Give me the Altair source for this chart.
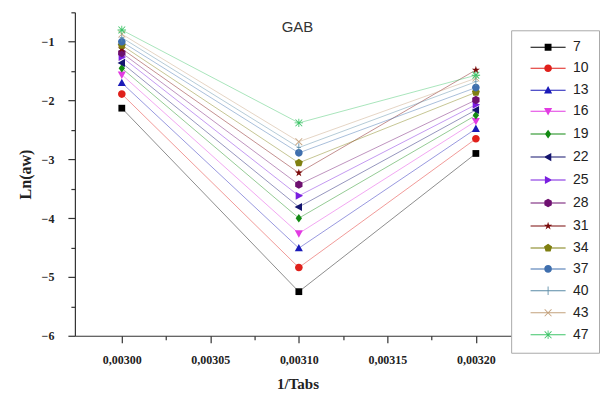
import altair as alt
import pandas as pd

# ---- data ----
series = ["7", "10", "13", "16", "19", "22", "25", "28", "31", "34", "37", "40", "43", "47"]
x_vals = [0.00300, 0.00310, 0.00320]
y_300 = [-2.13, -1.89, -1.70, -1.56, -1.45, -1.36, -1.26, -1.19, -1.12, -1.06, -1.00, -0.93, -0.87, -0.80]
y_310 = [-5.25, -4.84, -4.51, -4.26, -4.00, -3.81, -3.62, -3.43, -3.23, -3.06, -2.89, -2.80, -2.70, -2.38]
y_320 = [-2.90, -2.65, -2.48, -2.35, -2.25, -2.16, -2.07, -1.99, -1.48, -1.86, -1.78, -1.68, -1.62, -1.57]

x_major = [0.00300, 0.00305, 0.00310, 0.00315, 0.00320]
x_minor = [0.003025, 0.003075, 0.003125, 0.003175, 0.003225]
y_major = [-6, -5, -4, -3, -2, -1]
y_minor = [-5.5, -4.5, -3.5, -2.5, -1.5, -0.5]

colors = ["#000000", "#e0201b", "#1a1ab8", "#e23be2", "#138a13", "#14146e",
          "#7a1ee0", "#6e1070", "#7a0a0a", "#7f7f10", "#3f6fae", "#5a8aa6",
          "#c4a27e", "#3fc56a"]


# ---- marker glyphs (unit space, all wound clockwise) ----
def poly(pts, k=1.0, dx=0.0):
    return "M" + "L".join(f"{x * k + dx:.3f},{y * k:.3f}" for x, y in pts) + "Z"


def circ(r):
    return f"M{r:.3f},0A{r:.3f},{r:.3f} 0 1,1 {-r:.3f},0A{r:.3f},{r:.3f} 0 1,1 {r:.3f},0Z"


glyphs = {
    "square": [[(-0.8, -0.8), (0.8, -0.8), (0.8, 0.8), (-0.8, 0.8)]],
    "tri_up": [[(0, -1), (0.95, 0.75), (-0.95, 0.75)]],
    "tri_down": [[(0, 1), (-0.95, -0.75), (0.95, -0.75)]],
    "diamond": [[(0, -1), (0.75, 0), (0, 1), (-0.75, 0)]],
    "tri_left": [[(-1, 0), (0.75, -0.95), (0.75, 0.95)]],
    "tri_right": [[(1, 0), (-0.75, 0.95), (-0.75, -0.95)]],
    "hexagon": [[(0, -1), (0.866, -0.5), (0.866, 0.5), (0, 1), (-0.866, 0.5), (-0.866, -0.5)]],
    "star": [[(0, -1), (0.223, -0.307), (0.951, -0.309), (0.361, 0.117), (0.588, 0.809),
              (0, 0.38), (-0.588, 0.809), (-0.361, 0.117), (-0.951, -0.309), (-0.223, -0.307)]],
    "pentagon": [[(0, -1), (0.951, -0.309), (0.588, 0.809), (-0.588, 0.809), (-0.951, -0.309)]],
    "plus": [[(-0.1, -1), (0.1, -1), (0.1, 1), (-0.1, 1)],
             [(-0.5, -0.08), (0.5, -0.08), (0.5, 0.08), (-0.5, 0.08)]],
    "xmark": [[(-0.73, -0.87), (0.87, 0.73), (0.73, 0.87), (-0.87, -0.73)],
              [(-0.87, 0.73), (0.73, -0.87), (0.87, -0.73), (-0.73, 0.87)]],
    "aster": [[(-0.73, -0.87), (0.87, 0.73), (0.73, 0.87), (-0.87, -0.73)],
              [(-0.87, 0.73), (0.73, -0.87), (0.87, -0.73), (-0.73, 0.87)],
              [(-0.1, -1), (0.1, -1), (0.1, 1), (-0.1, 1)],
              [(-1, -0.1), (1, -0.1), (1, 0.1), (-1, 0.1)]],
}
order = ["square", "circle", "tri_up", "tri_down", "diamond", "tri_left", "tri_right",
         "hexagon", "star", "pentagon", "circle", "plus", "xmark", "aster"]


def glyph_path(name, k):
    if name == "circle":
        return circ(0.9 * k)
    return "".join(poly(p, k) for p in glyphs[name])


line_seg = poly([(-3.9, -0.11), (3.9, -0.11), (3.9, 0.11), (-3.9, 0.11)])
plot_shapes = [glyph_path(n, 1.0) for n in order]
legend_shapes = [line_seg + glyph_path(n, 0.95) for n in order]

rows = []
for i, s in enumerate(series):
    for xv, yl in zip(x_vals, [y_300, y_310, y_320]):
        rows.append({"s": s, "x": xv, "y": yl[i]})
df = pd.DataFrame(rows)

serif = "Liberation Serif"
xs = alt.Scale(domain=[0.0029735, 0.003225], nice=False, zero=False)
ys = alt.Scale(domain=[-6, -0.5], nice=False, zero=False)
cs = alt.Scale(domain=series, range=colors)

x_axis_major = alt.Axis(
    orient="bottom", values=x_major, grid=False, tickSize=7, tickColor="#333",
    domainColor="#333", domainWidth=1.2, tickWidth=1.2,
    labelExpr="replace(format(datum.value, '.5f'), '.', ',')",
    labelFont=serif, labelFontWeight="bold", labelFontSize=12, labelColor="#222",
    labelPadding=12, title="1/Tabs", titleFont=serif, titleFontWeight="bold",
    titleFontSize=15, titleColor="#222", titlePadding=11)
x_axis_minor = alt.Axis(
    orient="bottom", values=x_minor, grid=False, tickSize=4, tickColor="#333",
    tickWidth=1.2, domain=False, labels=False, title=None)
y_axis_major = alt.Axis(
    orient="left", values=y_major, grid=False, tickSize=7, tickColor="#333",
    domainColor="#333", domainWidth=1.2, tickWidth=1.2, format="d",
    labelFont=serif, labelFontWeight="bold", labelFontSize=12, labelColor="#222",
    labelPadding=14, title="Ln(aw)", titleFont=serif, titleFontWeight="bold",
    titleFontSize=16, titleColor="#222", titlePadding=8)
y_axis_minor = alt.Axis(
    orient="left", values=y_minor, grid=False, tickSize=4, tickColor="#333",
    tickWidth=1.2, domain=False, labels=False, title=None)

leg = alt.Legend(
    title=None, orient="none", legendX=437, legendY=18, padding=10,
    strokeColor="#aaa", fillColor="white", symbolOffset=20, labelOffset=18,
    labelFont="Liberation Sans", labelFontSize=14, labelColor="#222",
    symbolSize=81, symbolOpacity=1, rowPadding=7, labelLimit=60)

base = alt.Chart(df)

lines = base.mark_line(strokeWidth=1, opacity=0.45).encode(
    x=alt.X("x:Q", scale=xs, axis=x_axis_major),
    y=alt.Y("y:Q", scale=ys, axis=y_axis_major),
    color=alt.Color("s:N", scale=cs, legend=None),
    detail="s:N",
    order="x:Q",
)

points = base.mark_point(filled=True, size=72, opacity=1).encode(
    x=alt.X("x:Q", scale=xs, axis=x_axis_minor),
    y=alt.Y("y:Q", scale=ys, axis=y_axis_minor),
    color=alt.Color("s:N", scale=cs, legend=None),
    shape=alt.Shape("s:N", scale=alt.Scale(domain=series, range=plot_shapes), legend=None),
)

legend_layer = base.transform_filter("false").mark_point(filled=True, opacity=1).encode(
    x=alt.X("x:Q", scale=xs, axis=None),
    y=alt.Y("y:Q", scale=ys, axis=None),
    color=alt.Color("s:N", scale=cs, legend=leg),
    shape=alt.Shape("s:N", scale=alt.Scale(domain=series, range=legend_shapes), legend=leg),
)

chart = alt.layer(lines, points, legend_layer).resolve_axis(
    x="independent", y="independent"
).resolve_scale(
    color="independent", shape="independent"
).properties(
    width=446, height=324,
    autosize=alt.AutoSizeParams(type="none"),
    padding={"left": 67, "top": 4, "right": 80, "bottom": 59},
    title=alt.Title("GAB", font="Liberation Sans", fontSize=15, fontWeight="normal",
                    color="#333", anchor="middle", offset=0, dy=23),
    background="white",
).configure_view(stroke=None)

chart.save("out.html", embed_options={"renderer": "svg", "actions": False})
